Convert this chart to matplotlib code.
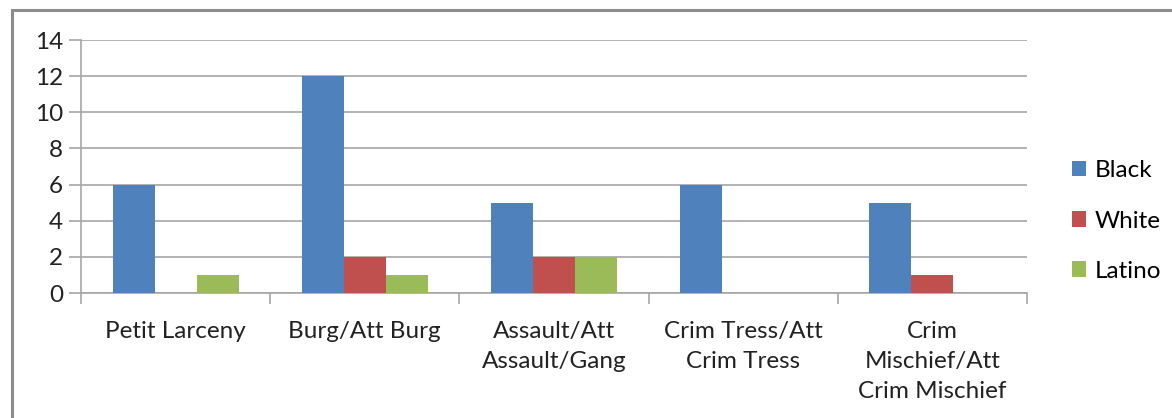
import numpy as np
import matplotlib.pyplot as plt
from matplotlib.patches import Rectangle

categories = ['Petit Larceny', 'Burg/Att Burg', 'Assault/Att\nAssault/Gang',
              'Crim Tress/Att\nCrim Tress', 'Crim\nMischief/Att\nCrim Mischief']
black = [6, 12, 5, 6, 5]
white = [0, 2, 2, 0, 1]
latino = [1, 1, 2, 0, 0]
series = ['Black', 'White', 'Latino']
colors = ['#4F81BD', '#C0504D', '#9BBB59']

plt.rcParams['font.family'] = ['Lato', 'DejaVu Sans']
fs = 17.5

fig = plt.figure(figsize=(11.72, 4.18), dpi=100)
ax = fig.add_axes([81/1172, 1-293/418, (1027-81)/1172, (293-40)/418])

# outer chart border (cut off at right and bottom)
fig.patches.append(Rectangle((12/1172, -0.1), 1.2, 1.1 - 10/418,
                             transform=fig.transFigure, fill=False,
                             edgecolor='#8c8c8c', linewidth=2.2))

x = np.arange(len(categories))
w = 1/4.5
for i, (vals, name, c) in enumerate(zip([black, white, latino], series, colors)):
    ax.bar(x + (i-1)*w, vals, width=w, color=c, label=name, zorder=3)

ax.set_xlim(-0.5, len(categories)-0.5)
ax.set_ylim(0, 14)
ax.set_yticks(range(0, 15, 2))
ax.yaxis.grid(True, color='#a6a6a6', linewidth=1.2, zorder=0)
ax.set_xticks(x)
ax.set_xticklabels(categories, fontsize=fs, color='#222222', linespacing=1.55)
ax.set_xticks(np.arange(-0.5, len(categories)), minor=True)
ax.tick_params(axis='x', which='major', length=0, pad=20)
ax.tick_params(axis='x', which='minor', length=8, color='#a6a6a6', width=1.2)
ax.tick_params(axis='y', length=9, color='#a6a6a6', width=1.2, labelsize=fs,
               labelcolor='#222222', pad=4)

for s in ['top', 'right']:
    ax.spines[s].set_visible(False)
for s in ['left', 'bottom']:
    ax.spines[s].set_color('#a6a6a6')
    ax.spines[s].set_linewidth(1.2)

fig.legend(loc='center left', bbox_to_anchor=(1062/1172, 1-221/418),
           frameon=False, fontsize=fs, handlelength=0.6, handleheight=0.6,
           labelspacing=1.2, handletextpad=0.35, borderaxespad=0)

fig.savefig('out.png', dpi=100)
